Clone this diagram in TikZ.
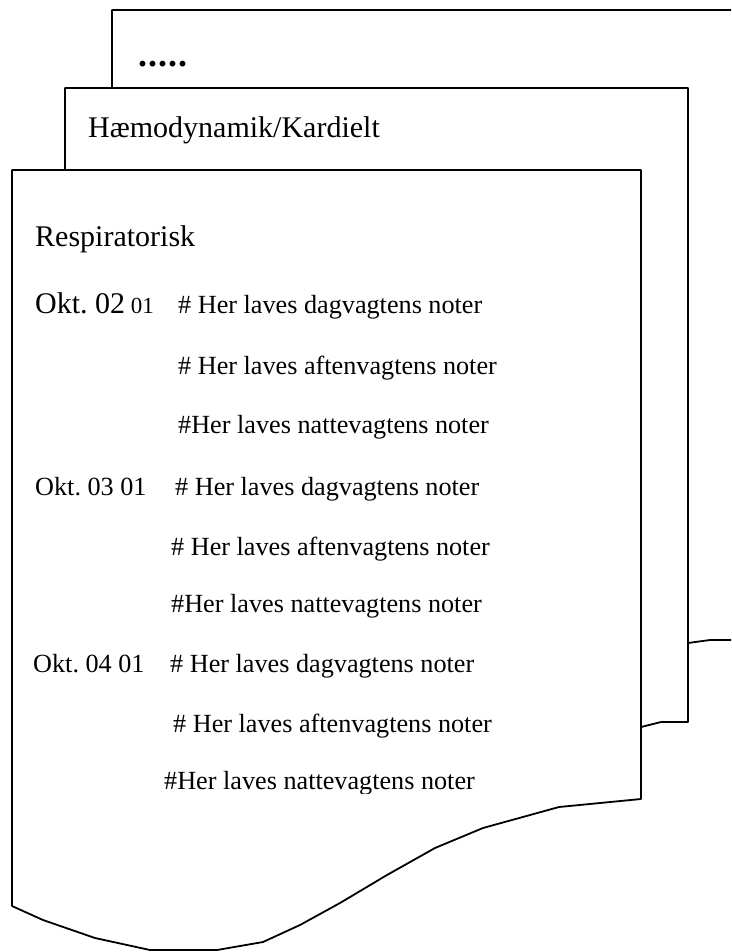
\documentclass[tikz,border=0pt]{standalone}
\usepackage{fontspec}
\setmainfont{Liberation Serif}
\frenchspacing
\begin{document}
\begin{tikzpicture}[x=1pt,y=-1pt,
  page/.style={draw=black,fill=white,line width=1.8pt,line join=round},
  big/.style={anchor=base west,inner sep=0pt,font=\fontsize{30}{33}\selectfont},
  note/.style={anchor=base west,inner sep=0pt,font=\fontsize{26.2}{30}\selectfont}]
\clip (0,0) rectangle (731,952);
% back page
\draw[page] (112,10) -- (760,10) -- (760,640) -- (710,640) -- (688,643) -- (600,660) -- (112,660) -- cycle;
% middle page
\draw[page] (65,88) -- (688,88) -- (688,722) -- (661,722) -- (641,727) -- (500,760) -- (65,760) -- cycle;
% front page
\draw[page] (12,170) -- (641,170) -- (641,799) -- (559,807) -- (483,828) -- (435,848) -- (387,875)
  -- (340,903) -- (300,925) -- (263,942) -- (217,950) -- (150,950) -- (95,938) -- (43,920) -- (12,906) -- cycle;

\node[anchor=base west,inner sep=0pt,font=\fontsize{36}{38}\selectfont\bfseries] (dots) at (138,67) {.\kern1pt.\kern1pt.\kern1pt.\kern1pt.};
\node[big] (haemo) at (88,138) {Hæmodynamik/Kardielt};
\node[big] (resp) at (35,246) {Respiratorisk};

\node[big] (d1) at (35,313) {Okt. 02\fontsize{23}{26}\selectfont\ 01};
\node[note] (n1a) at (178,313) {\# Her laves dagvagtens noter};
\node[note] (n1b) at (178,374) {\# Her laves aftenvagtens noter};
\node[note] (n1c) at (178,433) {\#Her laves nattevagtens noter};

\node[note] (d2) at (35,495) {Okt. 03 01};
\node[note] (n2a) at (175,495) {\# Her laves dagvagtens noter};
\node[note] (n2b) at (171,555) {\# Her laves aftenvagtens noter};
\node[note] (n2c) at (171,612) {\#Her laves nattevagtens noter};

\node[note] (d3) at (33,672) {Okt. 04 01};
\node[note] (n3a) at (170,672) {\# Her laves dagvagtens noter};
\node[note] (n3b) at (173,732) {\# Her laves aftenvagtens noter};
\begin{scope}
\clip (150,740) rectangle (520,793);
\node[note] (n3c) at (164,789) {\#Her laves nattevagtens noter};
\end{scope}
\end{tikzpicture}
\end{document}
